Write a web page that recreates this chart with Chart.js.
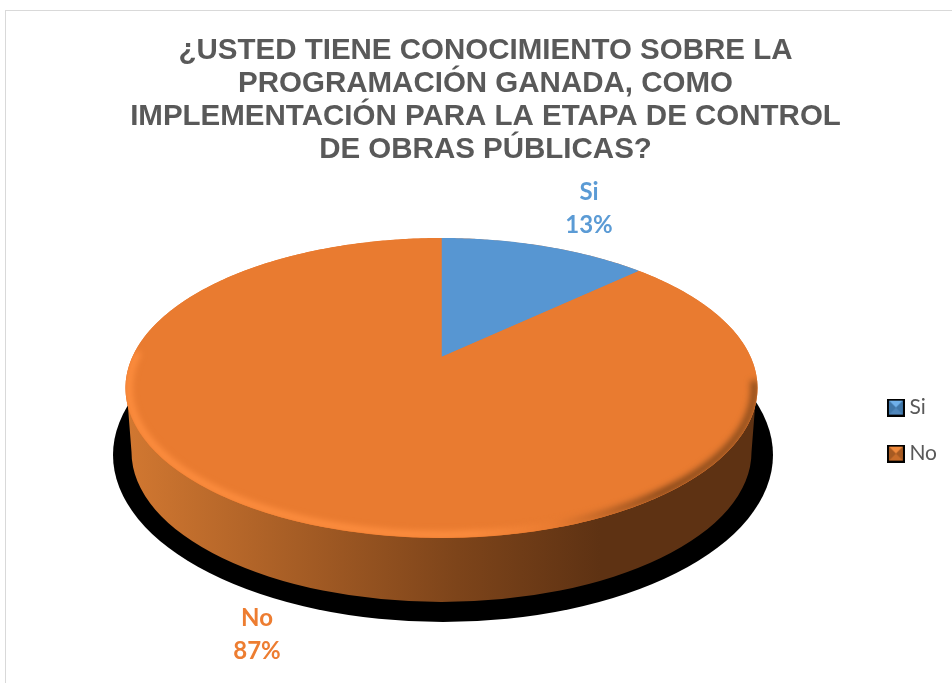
<!DOCTYPE html>
<html lang="es">
<head>
<meta charset="utf-8">
<title>Programación ganada</title>
<script src="https://cdn.jsdelivr.net/npm/chart.js@4/dist/chart.umd.js"></script>
<style>
    html, body { margin: 0; padding: 0; background: #fff; overflow: hidden; }
    #frame { position: absolute; left: 5px; top: 10px; width: 960px; height: 690px; border-left: 1px solid #d9d9d9; border-top: 1px solid #d9d9d9; }
    #chart { position: absolute; left: 0; top: 0; }
</style>
</head>
<body>
<div id="frame"></div>
<canvas id="chart" width="952" height="683"></canvas>
<script>
const titleLines = [
    '¿USTED TIENE CONOCIMIENTO SOBRE LA',
    'PROGRAMACIÓN GANADA, COMO',
    'IMPLEMENTACIÓN PARA LA ETAPA DE CONTROL',
    'DE OBRAS PÚBLICAS?'
];
const categories = ['Si', 'No'];
const percentages = [13, 87];
const sliceColors = ['#5796d2', '#e97b30'];
const labelColors = ['#5b9bd5', '#ed7d31'];

// Top face of the disc as seen in perspective: the pie centre sits above the ellipse centre
const face = { cx: 441.5, cy: 388, rx: 316, ry: 150, apexY: 357 };
const tilt = (() => {
    const top = face.cy - face.ry, bottom = face.cy + face.ry;
    const c = (top + bottom - 2 * face.apexY) / (bottom - top);
    return { c, a: top * (1 + c) - face.apexY, s: face.rx * Math.sqrt(1 - c * c) };
})();

function project(u, v) {
    const w = 1 + tilt.c * v;
    return [face.cx + tilt.s * u / w, (face.apexY + tilt.a * v) / w];
}

// Arcs keep the angles the library computes, only the path goes through the perspective
const ArcElement = Chart.registry.getElement('arc');
ArcElement.prototype.draw = function (ctx) {
    const span = this.endAngle - this.startAngle;
    const steps = Math.ceil(span / 0.01);
    ctx.save();
    ctx.beginPath();
    ctx.moveTo(...project(0, 0));
    for (let i = 0; i <= steps; i++) {
        const angle = this.startAngle + span * i / steps;
        ctx.lineTo(...project(Math.cos(angle), -Math.sin(angle)));
    }
    ctx.closePath();
    ctx.fillStyle = this.options.backgroundColor;
    ctx.fill();
    ctx.restore();
};

function bevelIcon(light, mid, dark) {
    const icon = document.createElement('canvas');
    icon.width = 18;
    icon.height = 18;
    const g = icon.getContext('2d');
    const tri = (color, pts) => {
        g.fillStyle = color;
        g.beginPath();
        g.moveTo(pts[0], pts[1]);
        g.lineTo(pts[2], pts[3]);
        g.lineTo(pts[4], pts[5]);
        g.fill();
    };
    g.fillStyle = mid;
    g.fillRect(0, 0, 18, 18);
    tri(light, [0, 0, 18, 0, 9, 9]);
    tri(dark, [0, 0, 0, 18, 9, 9]);
    tri(dark, [18, 0, 18, 18, 9, 9]);
    g.strokeStyle = '#000';
    g.lineWidth = 2;
    g.strokeRect(1, 1, 16, 16);
    return icon;
}
const legendIcons = [bevelIcon('#6fb0ea', '#4f86bb', '#3f76a8'), bevelIcon('#f08a3c', '#c96d2a', '#a65a22')];

const discPlugin = {
    id: 'disc',
    beforeDatasetsDraw(chart) {
        const ctx = chart.ctx;
        ctx.save();
        // drop shadow
        ctx.fillStyle = '#000';
        ctx.beginPath();
        ctx.ellipse(443, 455, 330, 167, 0, 0, Math.PI * 2);
        ctx.fill();
        // side wall
        const wall = ctx.createLinearGradient(125, 0, 600, 0);
        wall.addColorStop(0, '#d27831');
        wall.addColorStop(0.7, '#7d441a');
        wall.addColorStop(1, '#5e3213');
        ctx.fillStyle = wall;
        ctx.beginPath();
        ctx.moveTo(face.cx - face.rx + 1, face.cy);
        ctx.lineTo(face.cx - face.rx + 6, 452);
        ctx.ellipse(face.cx, 452, face.rx - 6, 150, 0, Math.PI, 0, true);
        ctx.lineTo(face.cx + face.rx - 1, face.cy);
        ctx.closePath();
        ctx.fill();
        // base under the slices so their seams stay clean
        ctx.fillStyle = sliceColors[1];
        ctx.beginPath();
        ctx.ellipse(face.cx, face.cy, face.rx, face.ry, 0, 0, Math.PI * 2);
        ctx.fill();
        ctx.restore();
    },
    afterDatasetsDraw(chart) {
        const ctx = chart.ctx;
        const rim = ctx.createLinearGradient(124, 0, 757, 0);
        rim.addColorStop(0, '#ff8f40');
        rim.addColorStop(0.55, '#ff8f40');
        rim.addColorStop(0.68, '#e97b30');
        rim.addColorStop(0.85, '#7f4519');
        rim.addColorStop(1, '#8a4c1c');
        ctx.save();
        ctx.beginPath();
        ctx.ellipse(face.cx, face.cy, face.rx, face.ry, 0, 0, Math.PI * 2);
        ctx.clip();
        ctx.filter = 'blur(3px)';
        ctx.strokeStyle = rim;
        ctx.lineWidth = 7;
        ctx.beginPath();
        ctx.ellipse(face.cx, face.cy, face.rx - 3, face.ry - 3, 0, -0.05, Math.PI + 0.25);
        ctx.stroke();
        ctx.restore();
    }
};

const labelPlugin = {
    id: 'sliceLabels',
    afterDraw(chart) {
        const anchors = [[589, 208], [257, 634]];
        const ctx = chart.ctx;
        ctx.save();
        ctx.font = 'bold 24px Lato';
        ctx.textAlign = 'center';
        ctx.textBaseline = 'middle';
        categories.forEach((name, i) => {
            ctx.fillStyle = labelColors[i];
            ctx.fillText(name, anchors[i][0], anchors[i][1] - 16);
            ctx.fillText(percentages[i] + '%', anchors[i][0], anchors[i][1] + 17);
        });
        ctx.restore();
    }
};

new Chart(document.getElementById('chart'), {
    type: 'pie',
    data: {
        labels: categories,
        datasets: [{ data: percentages, backgroundColor: sliceColors, borderWidth: 0 }]
    },
    plugins: [discPlugin, labelPlugin],
    options: {
        responsive: false,
        animation: false,
        layout: { padding: { left: 24, top: 0, right: 5, bottom: 0 } },
        plugins: {
            title: {
                display: true,
                text: titleLines,
                color: '#595959',
                font: { family: '"Liberation Sans"', size: 29.5, weight: 'bold', lineHeight: 1.12 },
                padding: { top: 34, bottom: 12 }
            },
            legend: {
                position: 'right',
                fullSize: false,
                labels: {
                    color: '#595959',
                    font: { family: 'Lato', size: 21 },
                    usePointStyle: true,
                    pointStyleWidth: 6,
                    padding: 25,
                    generateLabels(chart) {
                        return categories.map((name, i) => ({
                            text: name,
                            fontColor: '#595959',
                            fillStyle: sliceColors[i],
                            strokeStyle: '#000',
                            pointStyle: legendIcons[i],
                            index: i
                        }));
                    }
                }
            },
            tooltip: { enabled: false }
        }
    }
});
</script>
</body>
</html>
